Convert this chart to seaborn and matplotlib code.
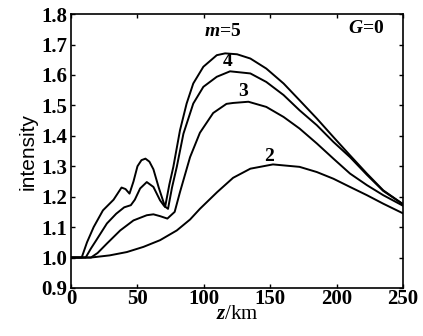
import pandas as pd
import seaborn as sns
import matplotlib.pyplot as plt

# Datos: intensidad vs z (km), G=0
z_m5 = [0, 8, 12, 17, 24, 32, 38, 41, 44, 47, 50, 53, 56, 59, 62, 66, 70.8, 74, 77, 82, 87, 92,
        99.6, 109.7, 116, 125, 135, 147, 160, 172, 185, 197.5, 210, 222.7, 235, 250]
v_m5 = [1.0, 1.0, 1.05, 1.10, 1.155, 1.19, 1.23, 1.225, 1.21, 1.25, 1.30, 1.32, 1.325, 1.315, 1.29,
        1.23, 1.166, 1.24, 1.298, 1.418, 1.506, 1.572, 1.627, 1.665, 1.671, 1.668, 1.654, 1.621,
        1.572, 1.517, 1.457, 1.396, 1.336, 1.276, 1.221, 1.175]

z_m4 = [0, 11, 15, 19, 27, 34, 40, 45, 48, 52, 57, 62, 67, 70, 73, 76, 79.6, 84.6, 92, 99.6,
        109.7, 119.7, 135, 147, 160, 172, 185, 197.5, 210, 222.7, 235, 250]
v_m4 = [1.0, 1.0, 1.03, 1.057, 1.112, 1.144, 1.165, 1.172, 1.19, 1.227, 1.248, 1.232, 1.188, 1.17,
        1.16, 1.23, 1.298, 1.407, 1.506, 1.561, 1.594, 1.612, 1.605, 1.577, 1.534, 1.484, 1.435,
        1.38, 1.33, 1.272, 1.219, 1.175]

z_m3 = [0, 15, 20, 27, 37, 47, 57, 62, 67, 72.5, 78, 82, 89.6, 97, 107, 117, 122, 133.5, 147, 160,
        172, 185, 197.5, 210, 222.7, 235, 250]
v_m3 = [1.0, 1.0, 1.015, 1.046, 1.089, 1.122, 1.139, 1.142, 1.136, 1.128, 1.15, 1.215, 1.33, 1.41,
        1.475, 1.505, 1.508, 1.512, 1.495, 1.462, 1.424, 1.375, 1.325, 1.276, 1.238, 1.205, 1.17]

z_m2 = [0, 15, 29, 42, 54.5, 67, 79.6, 89.6, 97, 110, 122, 135, 152, 172, 185, 197.5, 210, 222.7,
        235, 250]
v_m2 = [1.0, 1.0, 1.007, 1.018, 1.035, 1.057, 1.089, 1.125, 1.16, 1.215, 1.262, 1.292, 1.306, 1.298,
        1.281, 1.259, 1.232, 1.205, 1.177, 1.145]

curve_labels = ["$m$=5", "4", "3", "2"]
label_pos = [(114, 1.744), (118, 1.643), (129.5, 1.545), (148.7, 1.331)]

x_ticks = [0, 50, 100, 150, 200, 250]
y_ticks = [0.9, 1.0, 1.1, 1.2, 1.3, 1.4, 1.5, 1.6, 1.7, 1.8]

frames = []
for m, zz, vv in [(5, z_m5, v_m5), (4, z_m4, v_m4), (3, z_m3, v_m3), (2, z_m2, v_m2)]:
    frames.append(pd.DataFrame({"z": zz, "intensity": vv, "m": m}))
df = pd.concat(frames, ignore_index=True)

sns.set_theme(style="ticks")
plt.rcParams["font.family"] = ["Liberation Serif", "DejaVu Serif"]
plt.rcParams["font.weight"] = "bold"
plt.rcParams["text.color"] = "black"
plt.rcParams["axes.labelcolor"] = "black"
plt.rcParams["mathtext.fontset"] = "custom"
plt.rcParams["mathtext.it"] = "Liberation Serif:bold:italic"
plt.rcParams["mathtext.rm"] = "Liberation Serif:bold"

fig = plt.figure(figsize=(4.23, 3.36), dpi=100)
ax = fig.add_axes([0.168, 0.143, 0.785, 0.815])

sns.lineplot(data=df, x="z", y="intensity", hue="m", units="m", estimator=None, sort=False,
             palette=["black"] * 4, linewidth=1.4, legend=False, ax=ax)

ax.set_xlim(0, 250)
ax.set_ylim(0.9, 1.8)
ax.set_xticks(x_ticks)
ax.set_yticks(y_ticks)
ax.set_xticklabels([str(t) for t in x_ticks])
ax.set_yticklabels([f"{t:.1f}" for t in y_ticks])
ax.tick_params(direction="in", length=3, width=1, top=True, right=True,
               labelsize=15, colors="black")
ax.tick_params(axis="x", pad=1)
ax.tick_params(axis="y", pad=3)
for s in ax.spines.values():
    s.set_linewidth(1.2)
    s.set_color("black")

ax.set_xlabel("$z$/km", fontsize=15, labelpad=-3, color="black")
ax.set_ylabel("intensity", fontsize=15, family="Liberation Sans", fontweight="normal",
              labelpad=2, color="black")

for txt, (x, y) in zip(curve_labels, label_pos):
    ax.text(x, y, txt, fontsize=14, ha="center", va="center", color="black")
ax.text(222.5, 1.752, "$G$=0", fontsize=14, ha="center", va="center", color="black")

fig.savefig("out.png", dpi=100, facecolor="white")
